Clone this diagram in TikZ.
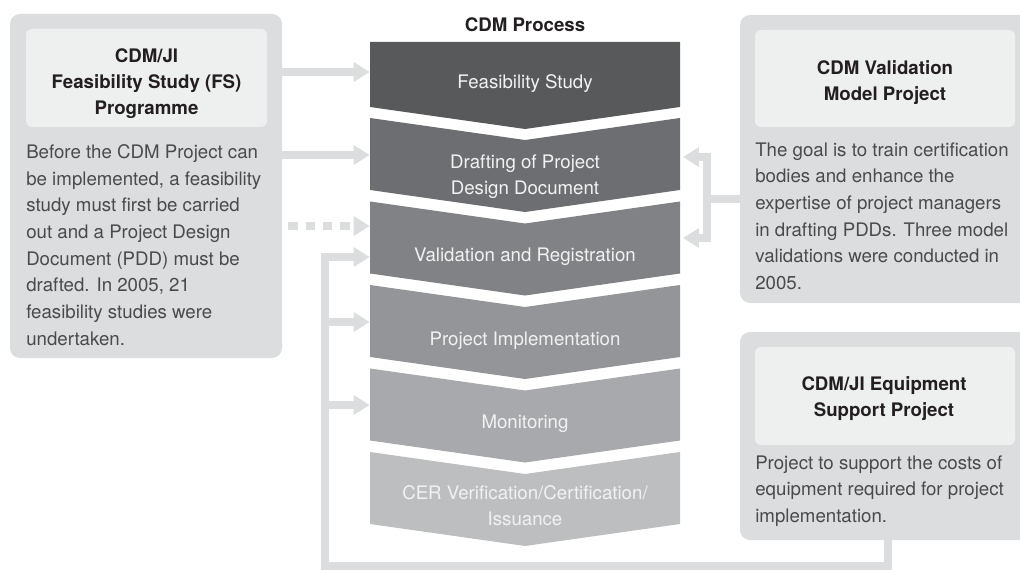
\documentclass[tikz,border=0pt]{standalone}
\usepackage{fontspec}
\setmainfont{TeX Gyre Heros}
\usetikzlibrary{arrows.meta,fit}
\definecolor{panelgray}{HTML}{DCDDDE}
\definecolor{boxgray}{HTML}{EEEFEF}
\definecolor{inkgray}{HTML}{4A4A4C}
\definecolor{headink}{HTML}{231F20}
\definecolor{stepA}{HTML}{58595B}
\definecolor{stepB}{HTML}{6D6E71}
\definecolor{stepC}{HTML}{808285}
\definecolor{stepD}{HTML}{939598}
\definecolor{stepE}{HTML}{A7A9AC}
\definecolor{stepF}{HTML}{BCBEC0}
\definecolor{stepink}{HTML}{F1F2F2}
\begin{document}
\begin{tikzpicture}[x=0.75pt,y=-0.75pt,
    panel/.style={fill=panelgray, rounded corners=7.5pt, inner sep=0pt},
    titlebox/.style={fill=boxgray, rounded corners=4.5pt, inner sep=0pt},
    titletext/.style={align=center, inner sep=0pt, text=headink,
      font=\fontsize{14}{19.5}\bfseries\selectfont},
    bodytext/.style={align=left, anchor=west, inner sep=0pt, text=inkgray,
      font=\fontsize{14}{20}\selectfont},
    stage/.style={align=center, inner sep=0pt, minimum width=232.5pt, text=stepink,
      font=\fontsize{14}{19.5}\selectfont},
    flow/.style={draw=panelgray, line width=6pt, -{Triangle[length=12pt,width=14pt]}},
    feedline/.style={draw=panelgray, line width=6pt}]
      \useasboundingbox (0,0) rectangle (1020,570);
      % side panels
      \node[panel, fit={(10,14) (282,358)}] (fsp) {};
      \node[panel, fit={(740,15) (1030,303)}] (vmp) {};
      \node[panel, fit={(740,332) (1030,540)}] (esp) {};
      \node[titlebox, fit={(26,29) (267,127)}] (fspbox) {};
      \node[titlebox, fit={(755,30) (1015,127)}] (vmpbox) {};
      \node[titlebox, fit={(755,347) (1015,445)}] (espbox) {};
      \node[titletext] (fsphead) at (146.5,84) {CDM/JI\\Feasibility Study (FS)\\Programme};
      \node[titletext] (vmphead) at (885,83) {CDM Validation\\Model Project};
      \node[titletext] (esphead) at (884,398.5) {CDM/JI Equipment\\Support Project};
      \node[bodytext] (fspbody) at (26,245) {Before the CDM Project can\\be implemented, a feasibility\\study must first be carried\\out and a Project Design\\Document (PDD) must be\\drafted. In 2005, 21\\feasibility studies were\\undertaken.};
      \node[bodytext] (vmpbody) at (755,216) {The goal is to train certification\\bodies and enhance the\\expertise of project managers\\in drafting PDDs. Three model\\validations were conducted in\\2005.};
      \node[bodytext] (espbody) at (755,491) {Project to support the costs of\\equipment required for project\\implementation.};
      % process chevrons
      \node[text=headink, font=\fontsize{14}{20}\bfseries\selectfont] (proc) at (525,25) {CDM Process};
      \fill[stepA] (370,42) -- (680,42) -- (680,107) -- (525,129) -- (370,107) -- cycle;
      \fill[stepB] (370,118) -- (525,140) -- (680,118) -- (680,190) -- (525,212) -- (370,190) -- cycle;
      \fill[stepC] (370,201.5) -- (525,223.5) -- (680,201.5) -- (680,273.5) -- (525,295.5) -- (370,273.5) -- cycle;
      \fill[stepD] (370,285) -- (525,307) -- (680,285) -- (680,357) -- (525,379) -- (370,357) -- cycle;
      \fill[stepE] (370,368.5) -- (525,390.5) -- (680,368.5) -- (680,440.5) -- (525,462.5) -- (370,440.5) -- cycle;
      \fill[stepF] (370,452) -- (525,474) -- (680,452) -- (680,524) -- (525,546) -- (370,524) -- cycle;
      \node[stage] (s1) at (525,84) {Feasibility Study};
      \node[stage] (s2) at (525,177) {Drafting of Project\\Design Document};
      \node[stage] (s3) at (525,256.5) {Validation and Registration};
      \node[stage] (s4) at (525,341) {Project Implementation};
      \node[stage] (s5) at (525,424) {Monitoring};
      \node[stage] (s6) at (525,506) {CER Verification/Certification/\\Issuance};
      % connectors
      \coordinate (bus) at (325,566);
      \coordinate (fork) at (707,199);
      \draw[flow] (fsp.east |- 0,72) -- (s1.west |- 0,72);
      \draw[flow] (fsp.east |- 0,155) -- (s2.west |- 0,155);
      \draw[flow, dash pattern=on 7pt off 6pt] ([xshift=4.5pt]fsp.east |- 0,226) -- (s3.west |- 0,226);
      \draw[flow] (esp.south -| 888,0) |- (bus) |- (s3.west |- 0,257);
      \draw[flow] (bus |- 0,322) -- (s4.west |- 0,322);
      \draw[flow] (bus |- 0,405) -- (s5.west |- 0,405);
      \draw[feedline] (vmp.west |- fork) -- (fork);
      \draw[flow] (fork) |- ([xshift=2pt]s2.east |- 0,157);
      \draw[flow] (fork) |- ([xshift=2pt]s3.east |- 0,238);
\end{tikzpicture}
\end{document}
